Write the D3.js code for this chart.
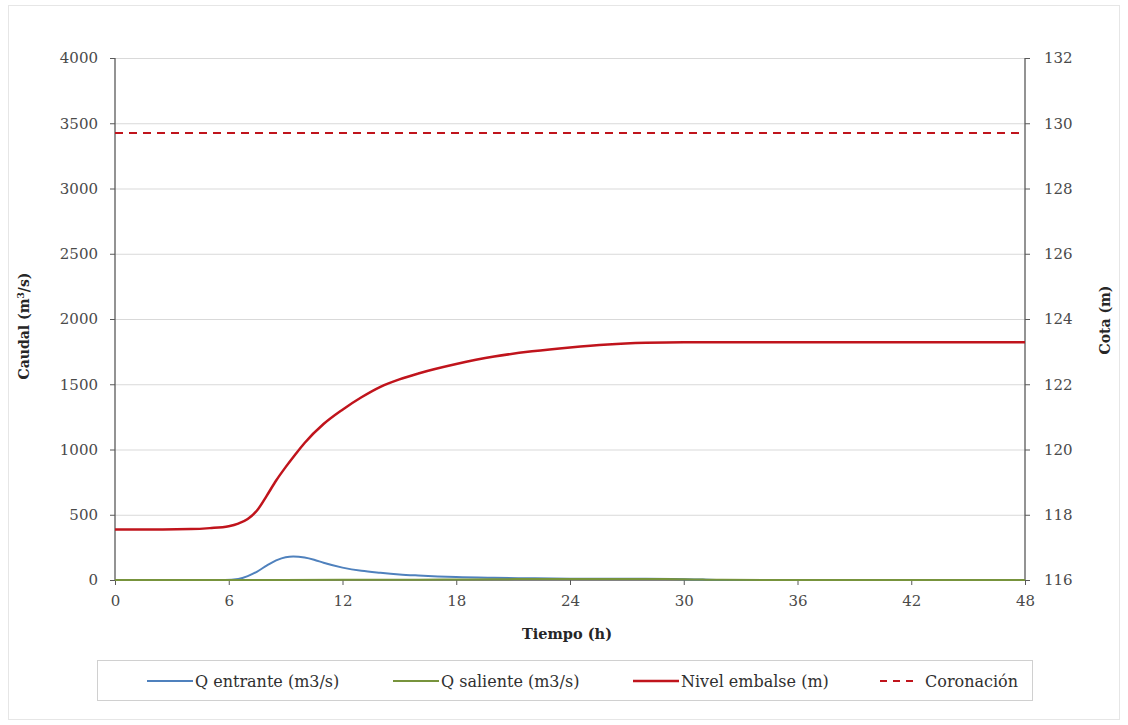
<!DOCTYPE html>
<html><head><meta charset="utf-8">
<script src="https://cdn.jsdelivr.net/npm/d3@7"></script>
<style>body{margin:0;background:#fff;} svg{display:block;} text{font-family:"DejaVu Serif",serif;}</style>
</head><body>
<svg id="c" width="1128" height="725"></svg>
<script>
const xTicks = [0,6,12,18,24,30,36,42,48];
const leftTicks = [0,500,1000,1500,2000,2500,3000,3500,4000];
const rightTicks = [116,118,120,122,124,126,128,130,132];

const timeIn = [0,5,5.8,6.5,7,7.5,8,8.5,9,9.4,10,10.5,11,12,13,14,15,16,18,20,22,24,26,28,30,31,32,36,42,48];
const qIn   = [0,0,0,8,30,65,110,150,175,180,172,155,132,95,70,55,43,35,23,17,13,10,9,9,6,3,0,0,0,0];

const timeOut = [0,6,12,16,18,20,22,24,26,28,29,30,31,32,36,42,48];
const qOut    = [0,0,1,2,4,6,7,7,7,8,8,6,3,1,0,0,0];

const timeLvl = [0,2,4,5,6,6.5,7,7.5,8,8.5,9,9.5,10,11,12,13,14,15,16,18,20,22,24,26,28,30,36,42,48];
const level   = [117.55,117.55,117.56,117.59,117.65,117.73,117.87,118.14,118.58,119.05,119.46,119.84,120.2,120.78,121.22,121.6,121.92,122.15,122.33,122.62,122.85,123.01,123.13,123.22,123.27,123.29,123.29,123.29,123.29];

const crownLevel = 129.7;

const legendLabels = ["Q entrante (m3/s)","Q saliente (m3/s)","Nivel embalse (m)","Coronación"];
const colors = {qin:"#4f81bd", qout:"#77933c", lvl:"#c0141c", crown:"#c0141c"};

const svg = d3.select("#c");
const font = "DejaVu Serif";
const L=115, R=1025, T=58, B=580;

svg.append("rect").attr("x",8.5).attr("y",5.5).attr("width",1111).attr("height",714)
  .attr("fill","#fff").attr("stroke","#e6e6e6");

const x = d3.scaleLinear().domain([0,48]).range([L,R]);
const yL = d3.scaleLinear().domain([0,4000]).range([B,T]);
const yR = d3.scaleLinear().domain([116,132]).range([B,T]);

svg.append("g").selectAll("line").data(leftTicks.filter(d=>d>0)).join("line")
  .attr("x1",L).attr("x2",R).attr("y1",d=>yL(d)+0.5).attr("y2",d=>yL(d)+0.5)
  .attr("stroke","#d9d9d9").attr("stroke-width",1);

const axL = svg.append("g").attr("transform",`translate(${L},0)`)
  .call(d3.axisLeft(yL).tickValues(leftTicks).tickSize(5).tickPadding(12).tickFormat(d3.format("d")));
const axR = svg.append("g").attr("transform",`translate(${R},0)`)
  .call(d3.axisRight(yR).tickValues(rightTicks).tickSize(5).tickPadding(14).tickFormat(d3.format("d")));
const axB = svg.append("g").attr("transform",`translate(0,${B})`)
  .call(d3.axisBottom(x).tickValues(xTicks).tickSize(5).tickPadding(10));
[axL,axR,axB].forEach(a=>{
  a.select(".domain").attr("stroke","#595959").attr("stroke-width",1.3);
  a.selectAll(".tick line").attr("stroke","#595959");
  a.selectAll("text").attr("font-family",font).attr("font-size",15).attr("fill","#4a4a4a");
});
axL.select(".domain").attr("d",`M0,${T}V${B}`);
axR.select(".domain").attr("d",`M0,${T}V${B}`);
axB.select(".domain").attr("d",`M${L},0H${R}`);

svg.append("text").attr("transform",`translate(29,326) rotate(-90)`)
  .attr("text-anchor","middle").attr("font-family",font).attr("font-weight","bold")
  .attr("font-size",14).attr("fill","#262626").html("Caudal (m<tspan dy='-5' font-size='9'>3</tspan><tspan dy='5'>/s)</tspan>");
svg.append("text").attr("transform",`translate(1110,320) rotate(-90)`)
  .attr("text-anchor","middle").attr("font-family",font).attr("font-weight","bold")
  .attr("font-size",14).attr("fill","#262626").text("Cota (m)");
svg.append("text").attr("x",567).attr("y",639)
  .attr("text-anchor","middle").attr("font-family",font).attr("font-weight","bold")
  .attr("font-size",14.5).attr("fill","#262626").text("Tiempo (h)");

const lineQ = (ts,vs)=>d3.line().x((d,i)=>x(ts[i])).y(d=>yL(d)).curve(d3.curveMonotoneX)(vs);
svg.append("path").attr("d",lineQ(timeIn,qIn)).attr("fill","none").attr("stroke",colors.qin).attr("stroke-width",2);
svg.append("path").attr("d",lineQ(timeOut,qOut)).attr("fill","none").attr("stroke",colors.qout).attr("stroke-width",2);
svg.append("path").attr("d",d3.line().x((d,i)=>x(timeLvl[i])).y(d=>yR(d)).curve(d3.curveMonotoneX)(level))
  .attr("fill","none").attr("stroke",colors.lvl).attr("stroke-width",2.5);
svg.append("line").attr("x1",x(0)).attr("x2",x(48)).attr("y1",yR(crownLevel)).attr("y2",yR(crownLevel))
  .attr("stroke",colors.crown).attr("stroke-width",2).attr("stroke-dasharray","8,6");

svg.append("rect").attr("x",97.5).attr("y",660.5).attr("width",935).attr("height",40)
  .attr("fill","#fff").attr("stroke","#d0d0d0");
const legItems = [
  {lab:legendLabels[0], c:colors.qin, x0:147, len:46, tx:195, w:2, dash:null},
  {lab:legendLabels[1], c:colors.qout, x0:393, len:46, tx:441, w:2, dash:null},
  {lab:legendLabels[2], c:colors.lvl, x0:633, len:46, tx:681, w:2.5, dash:null},
  {lab:legendLabels[3], c:colors.crown, x0:880, len:34, tx:925, w:2, dash:"7,6"}
];
const lg = svg.append("g").selectAll("g").data(legItems).join("g");
lg.append("line").attr("x1",d=>d.x0).attr("x2",d=>d.x0+d.len).attr("y1",681).attr("y2",681)
  .attr("stroke",d=>d.c).attr("stroke-width",d=>d.w).attr("stroke-dasharray",d=>d.dash);
lg.append("text").attr("x",d=>d.tx).attr("y",687).attr("font-family",font)
  .attr("font-size",16).attr("fill","#303030").text(d=>d.lab);
</script>
</body></html>
